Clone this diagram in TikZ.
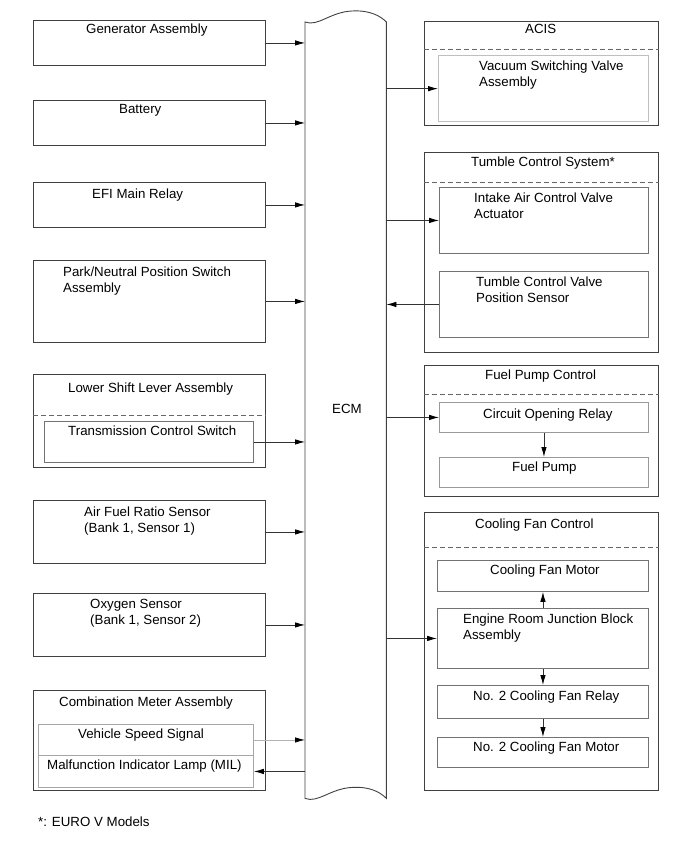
\documentclass[tikz,border=0pt]{standalone}
\usepackage{fontspec}
\setmainfont{Liberation Sans}
\usetikzlibrary{arrows.meta}

\begin{document}
\begin{tikzpicture}[x=1pt, y=-1pt,
    outer/.style={draw=black!75, line width=0.9pt, anchor=north west, inner sep=0pt},
    inner/.style={draw=black!55, line width=0.9pt, anchor=north west, inner sep=0pt},
    pale/.style={draw=black!25, line width=1.3pt, anchor=north west, inner sep=0pt},
    lbl/.style={anchor=base west, inner sep=0pt, font=\fontsize{13.3}{16}\selectfont},
    lbltwo/.style={anchor=north west, inner sep=0pt, align=left, font=\fontsize{13.3}{16}\selectfont},
    sep/.style={draw=black!60, dash pattern=on 5pt off 3pt, line width=0.8pt},
    sig/.style={-{Latex[length=10pt,width=5.5pt,black]}, line width=0.8pt, draw=black!80},
]
    \useasboundingbox (0,0) rectangle (690,853);

    % ECM body
    \node[anchor=north west, inner sep=0pt, minimum width=81pt, minimum height=776pt] (ecm) at (305,22) {};
    \draw[black!75, line width=0.9pt] (ecm.north west)
        .. controls +(13,5) and +(-22,1) .. ++(47,-11)
        .. controls +(18,-1) and +(-6,-6) .. (ecm.north east)
        -- (ecm.south east)
        .. controls +(-6,-6) and +(18,-1) .. ++(-34,-11)
        .. controls +(-22,1) and +(13,5) .. (ecm.south west) -- cycle;
    \node[lbl, anchor=base] (ecmtxt) at (347,413) {ECM};

    % inputs
    \node[outer, minimum width=232pt, minimum height=45pt] (gen) at (33,20) {};
    \node[lbl] (gentxt) at (86,34) {Generator Assembly};
    \node[outer, minimum width=232pt, minimum height=45pt] (bat) at (33,100) {};
    \node[lbl] (battxt) at (119,114) {Battery};
    \node[outer, minimum width=232pt, minimum height=45pt] (efi) at (33,182) {};
    \node[lbl] (efitxt) at (92,198) {EFI Main Relay};
    \node[outer, minimum width=232pt, minimum height=82pt] (pns) at (33,260) {};
    \node[lbltwo] (pnstxt) at (63,266.2) {Park/Neutral Position Switch\\Assembly};

    \node[outer, minimum width=232pt, minimum height=93pt] (lsl) at (33,374) {};
    \node[lbl] (lsltxt) at (68,392) {Lower Shift Lever Assembly};
    \draw[sep] ([yshift=-41pt]lsl.north west) -- ([yshift=-41pt]lsl.north east);
    \node[inner, minimum width=209pt, minimum height=41pt] (tcs) at (44,421) {};
    \node[lbl] (tcstxt) at (68,435) {Transmission Control Switch};

    \node[outer, minimum width=232pt, minimum height=63pt] (afs) at (33,500) {};
    \node[lbltwo] (afstxt) at (84,506.2) {Air Fuel Ratio Sensor\\(Bank 1, Sensor 1)};
    \node[outer, minimum width=232pt, minimum height=63pt] (oxs) at (33,593) {};
    \node[lbltwo] (oxstxt) at (90,599.2) {Oxygen Sensor\\(Bank 1, Sensor 2)};

    \node[outer, minimum width=232pt, minimum height=100pt] (cma) at (33,690) {};
    \node[lbl] (cmatxt) at (59,706) {Combination Meter Assembly};
    \node[inner, draw=black!35, minimum width=215pt, minimum height=31pt] (vss) at (38,724) {};
    \node[lbl] (vsstxt) at (78,738) {Vehicle Speed Signal};
    \node[inner, draw=black!35, minimum width=215pt, minimum height=32pt] (mil) at (38,755) {};
    \node[lbl] (miltxt) at (47,769) {Malfunction Indicator Lamp (MIL)};

    \foreach \src in {gen,bat,efi,pns,tcs,afs,oxs}
        \draw[sig] (\src.east) -- (\src.east -| ecm.west);
    \draw[sig, draw=black!30] (vss.east) -- (vss.east -| ecm.west);
    \draw[sig] (mil.east -| ecm.west) -- (mil.east);

    % outputs
    \node[outer, minimum width=234pt, minimum height=104pt] (acis) at (424,21) {};
    \node[lbl] (acistxt) at (525,34) {ACIS};
    \draw[sep] ([yshift=-28pt]acis.north west) -- ([yshift=-28pt]acis.north east);
    \node[pale, minimum width=210pt, minimum height=66pt] (vsv) at (438,55) {};
    \node[lbltwo] (vsvtxt) at (479,60.2) {Vacuum Switching Valve\\Assembly};

    \node[outer, minimum width=234pt, minimum height=200pt] (tumble) at (424,152) {};
    \node[lbl] (tumbletxt) at (471,167) {Tumble Control System*};
    \draw[sep] ([yshift=-30pt]tumble.north west) -- ([yshift=-30pt]tumble.north east);
    \node[inner, minimum width=209pt, minimum height=66pt] (iacv) at (439,187) {};
    \node[lbltwo] (iacvtxt) at (474,192.2) {Intake Air Control Valve\\Actuator};
    \node[inner, minimum width=209pt, minimum height=66pt] (tcvps) at (439,271) {};
    \node[lbltwo] (tcvpstxt) at (476,276.2) {Tumble Control Valve\\Position Sensor};

    \node[outer, minimum width=234pt, minimum height=131pt] (fpc) at (424,365) {};
    \node[lbl] (fpctxt) at (485,379) {Fuel Pump Control};
    \draw[sep] ([yshift=-29pt]fpc.north west) -- ([yshift=-29pt]fpc.north east);
    \node[inner, draw=black!40, minimum width=209pt, minimum height=30pt] (cor) at (439,402) {};
    \node[lbl] (cortxt) at (483,418) {Circuit Opening Relay};
    \node[inner, draw=black!40, minimum width=209pt, minimum height=30pt] (fp) at (439,457) {};
    \node[lbl] (fptxt) at (512,471) {Fuel Pump};

    \node[outer, minimum width=234pt, minimum height=278pt] (cfc) at (424,512) {};
    \node[lbl] (cfctxt) at (475,528) {Cooling Fan Control};
    \draw[sep] ([yshift=-35pt]cfc.north west) -- ([yshift=-35pt]cfc.north east);
    \node[inner, minimum width=211pt, minimum height=31pt] (cfm) at (437,560) {};
    \node[lbl] (cfmtxt) at (490,574) {Cooling Fan Motor};
    \node[inner, minimum width=211pt, minimum height=60pt] (erjb) at (437,608) {};
    \node[lbltwo] (erjbtxt) at (463,613.2) {Engine Room Junction Block\\Assembly};
    \node[inner, minimum width=211pt, minimum height=33pt] (relay) at (437,685) {};
    \node[lbl] (relaytxt) at (473,700) {No. 2 Cooling Fan Relay};
    \node[inner, minimum width=211pt, minimum height=30pt] (fan) at (437,737) {};
    \node[lbl] (fantxt) at (473,751) {No. 2 Cooling Fan Motor};

    \foreach \dst in {vsv,iacv,cor,erjb}
        \draw[sig] (\dst.west -| ecm.east) -- (\dst.west);
    \draw[sig] (tcvps.west) -- (tcvps.west -| ecm.east);
    \draw[sig] (cor.south) -- (fp.north);
    \draw[sig] (erjb.north) -- (cfm.south);
    \draw[sig] (erjb.south) -- (relay.north);
    \draw[sig] (relay.south) -- (fan.north);

    \node[lbl] (note) at (38,826) {*: EURO V Models};
\end{tikzpicture}
\end{document}
